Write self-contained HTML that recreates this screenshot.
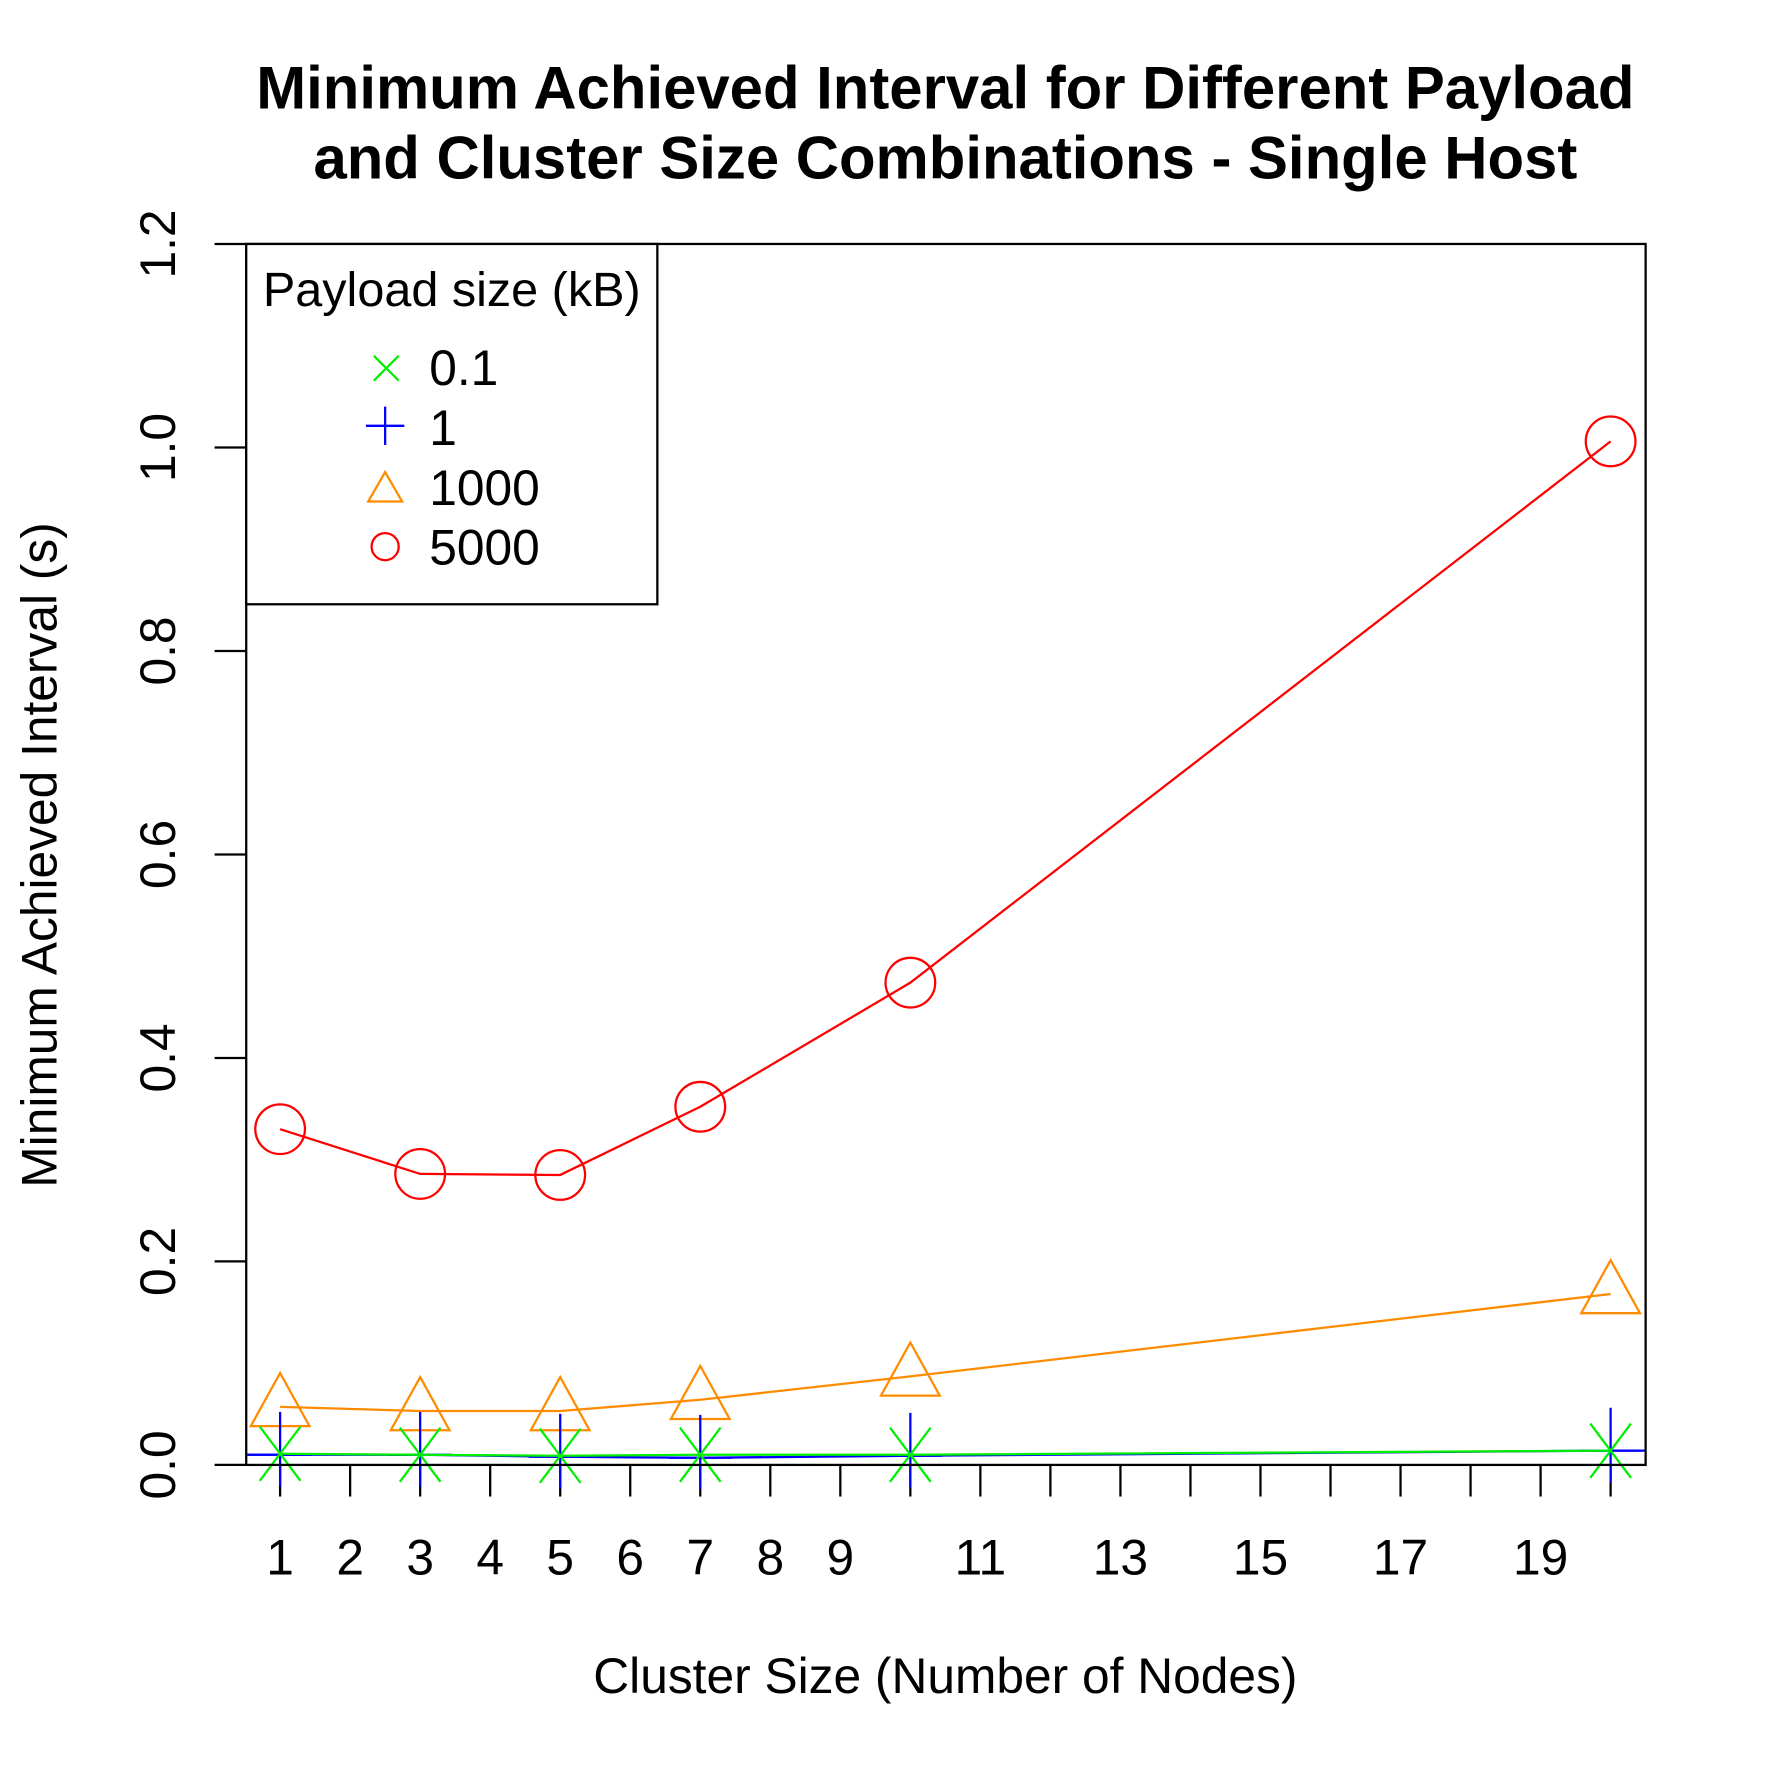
<!DOCTYPE html>
<html><head><meta charset="utf-8"><style>html,body{margin:0;padding:0;background:#fff}svg{display:block}</style></head>
<body>
<svg id="chart" width="1771" height="1771" viewBox="0 0 1568 1568" xmlns="http://www.w3.org/2000/svg" font-family="Liberation Sans, sans-serif">
<text x="837" y="96" font-size="53" font-weight="bold" text-anchor="middle">Minimum Achieved Interval for Different Payload</text>
<text x="837" y="158" font-size="53" font-weight="bold" text-anchor="middle">and Cluster Size Combinations - Single Host</text>
<text x="837" y="1499" font-size="44" text-anchor="middle">Cluster Size (Number of Nodes)</text>
<text transform="translate(50,757) rotate(-90)" font-size="44" text-anchor="middle">Minimum Achieved Interval (s)</text>
<g id="axes"></g>
<g id="series"></g>
<rect x="218" y="216" width="1239" height="1081" fill="none" stroke="#000" stroke-width="2"/>
<g>
<rect x="218" y="216" width="364" height="319" fill="#fff" stroke="#000" stroke-width="2"/>
<text x="400" y="271" font-size="43" text-anchor="middle">Payload size (kB)</text>
<g><path d="M331,315 L353,337 M353,315 L331,337" stroke="#00ee00" stroke-width="2"/><text x="380" y="341" font-size="44">0.1</text></g>
<g><path d="M324,377 L358,377 M341,360 L341,394" stroke="#0000ff" stroke-width="2"/><text x="380" y="394" font-size="44">1</text></g>
<g><path d="M341,418 L356,444 L326,444 Z" fill="none" stroke="#ff8c00" stroke-width="2"/><text x="380" y="447" font-size="44">1000</text></g>
<g><circle cx="341" cy="484" r="12" fill="none" stroke="#ff0000" stroke-width="2"/><text x="380" y="500" font-size="44">5000</text></g>
</g>
</svg>
<script>
const xs = [1, 3, 5, 7, 10, 20];
const s01 = [0.011, 0.010, 0.009, 0.010, 0.010, 0.014];
const s1 = [0.010, 0.010, 0.008, 0.007, 0.009, 0.014];
const s1000 = [0.057, 0.053, 0.053, 0.064, 0.087, 0.168];
const s5000 = [0.330, 0.286, 0.285, 0.352, 0.474, 1.006];
const yTicks = [0, 0.2, 0.4, 0.6, 0.8, 1.0, 1.2];
const yTickLabels = ["0.0", "0.2", "0.4", "0.6", "0.8", "1.0", "1.2"];
const xTicks = [1,2,3,4,5,6,7,8,9,10,11,12,13,14,15,16,17,18,19,20];
const xTickLabels = ["1","2","3","4","5","6","7","8","9","11","13","15","17","19"];

const NS = "http://www.w3.org/2000/svg";
function X(v){ return 248 + (v - 1) * 62; }
function Y(v){ return 1297 - v * 900.8; }
function mk(tag, attrs, parent){ const e = document.createElementNS(NS, tag); for (const k in attrs) e.setAttribute(k, attrs[k]); parent.appendChild(e); return e; }
const axes = document.getElementById('axes');
const series = document.getElementById('series');

yTicks.forEach((t, i) => {
  const l = mk('line', {x1:190, x2:218, y1:Y(t), y2:Y(t), stroke:'#000', 'stroke-width':2}, axes);
  
  
  const tx = mk('text', {transform:`translate(155,${Y(t)}) rotate(-90)`, 'font-size':44, 'text-anchor':'middle'}, axes);
  tx.textContent = yTickLabels[i];
  
  
});
xTicks.forEach(t => {
  const l = mk('line', {x1:X(t), x2:X(t), y1:1297, y2:1325, stroke:'#000', 'stroke-width':2}, axes);
  
  
});
xTickLabels.forEach(lbl => {
  const tx = mk('text', {x:X(+lbl), y:1394, 'font-size':44, 'text-anchor':'middle'}, axes);
  tx.textContent = lbl;
  
  
});

function drawSeries(vals, color, name, marker, extend){
  const g = mk('g', {}, series);
  
  
  let pts = xs.map((x, i) => X(x) + ',' + Y(vals[i]));
  if (extend) { pts.unshift(218 + ',' + Y(vals[0])); pts.push(1457 + ',' + Y(vals[vals.length-1])); }
  const pl = mk('polyline', {points: pts.join(' '), fill:'none', stroke:color, 'stroke-width':2}, g);
  
  
  xs.forEach((x, i) => {
    const cx = X(x), cy = Y(vals[i]);
    let m;
    if (marker === 'circle') m = mk('circle', {cx, cy, r:22, fill:'none', stroke:color, 'stroke-width':2}, g);
    else if (marker === 'tri') m = mk('path', {d:`M${cx},${cy-30} L${cx+26},${cy+17} L${cx-26},${cy+17} Z`, fill:'none', stroke:color, 'stroke-width':2}, g);
    else if (marker === 'plus') m = mk('path', {d:`M${cx-28},${cy} L${cx+28},${cy} M${cx},${cy-38} L${cx},${cy+28}`, fill:'none', stroke:color, 'stroke-width':2}, g);
    else m = mk('path', {d:`M${cx-18},${cy-24} L${cx+18},${cy+24} M${cx+18},${cy-24} L${cx-18},${cy+24}`, fill:'none', stroke:color, 'stroke-width':2}, g);
    
    
  });
}
drawSeries(s5000, '#ff0000', '5000', 'circle', false);
drawSeries(s1000, '#ff8c00', '1000', 'tri', false);
drawSeries(s1, '#0000ff', '1', 'plus', true);
drawSeries(s01, '#00ee00', '0.1', 'x', false);
</script>
</body></html>
